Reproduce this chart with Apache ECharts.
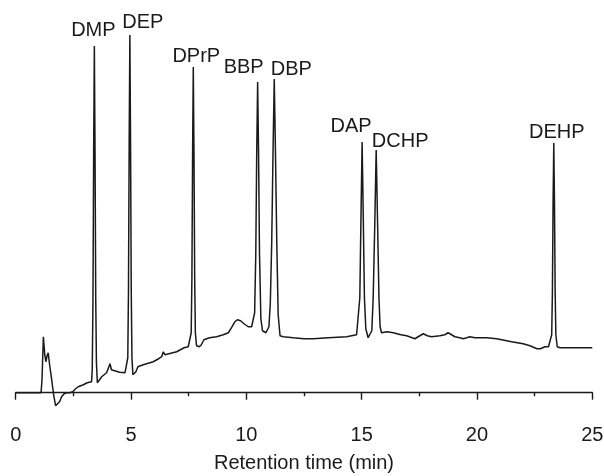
<!DOCTYPE html>
<html>
<head>
<meta charset="utf-8">
<title>Phthalate chromatogram</title>
<script src="https://cdn.jsdelivr.net/npm/echarts@6/dist/echarts.min.js"></script>
<style>
  html, body { margin: 0; padding: 0; background: #fff; }
  #chart { width: 604px; height: 476px; }
</style>
</head>
<body>
<div id="chart"></div>
<script>
// retention time (min) and detector response (arbitrary units, 0 = starting baseline)
const timeMin = [
  0.00, 1.10, 1.14, 1.20, 1.26, 1.31, 1.36, 1.41, 1.47, 1.56, 1.65, 1.73, 1.80, 1.90, 1.99, 2.10, 2.21, 2.35, 2.47, 2.60, 2.71, 2.93, 3.10, 3.29,
  3.32, 3.35, 3.38, 3.41, 3.44, 3.47, 3.50, 3.54, 3.58,
  3.73, 3.94, 4.02, 4.09, 4.15, 4.20, 4.50, 4.74, 4.80,
  4.86, 4.89, 4.92, 4.95, 4.98, 5.01, 5.04, 5.08,
  5.21, 5.30, 5.53, 5.96, 6.20, 6.33, 6.40, 6.47, 6.55, 6.98, 7.30, 7.48, 7.55,
  7.61, 7.64, 7.67, 7.70, 7.73, 7.76, 7.79, 7.84,
  7.96, 8.05, 8.16, 8.40, 8.71, 9.00, 9.22, 9.35, 9.50, 9.61, 9.75, 9.90, 10.08, 10.23, 10.30,
  10.36, 10.41, 10.45, 10.49, 10.53, 10.57, 10.63, 10.70, 10.78, 10.85, 10.92, 10.98,
  11.04, 11.10, 11.16, 11.21, 11.26, 11.32, 11.38, 11.46,
  11.60, 12.03, 12.50, 12.90, 13.55, 14.35, 14.78, 14.86,
  14.92, 14.97, 15.02, 15.07, 15.12, 15.18, 15.28, 15.36, 15.44,
  15.50, 15.57, 15.63, 15.69, 15.75, 15.80, 15.86,
  16.10, 16.37, 16.70, 16.95, 17.31, 17.45, 17.67, 17.85, 18.03, 18.39, 18.60, 18.75, 18.90, 19.04, 19.25, 19.40, 19.55, 19.69, 19.91,
  20.42, 20.85, 21.07, 21.50, 22.00, 22.30, 22.60, 22.75, 22.95, 23.10, 23.18,
  23.24, 23.27, 23.30, 23.33, 23.36, 23.39, 23.42, 23.48,
  23.60, 24.00, 24.50, 25.00
];
const signal = [
  0, 0, 13, 56, 38, 31, 37, 40, 28, 13, -3, -13, -15, -9, -4, -1, 0, 0, 1, 4, 6, 8, 10, 11,
  24, 92, 240, 347, 240, 95, 30, 10, 9,
  16, 20, 22, 29, 23, 21, 20.5, 20, 20,
  35, 102, 250, 358, 250, 102, 35, 18,
  21, 26, 28, 31, 34, 36, 41, 38, 38, 41, 45, 46, 47,
  60, 115, 238, 326, 238, 115, 60, 47,
  46, 48, 53, 55, 56, 58, 60, 65, 71, 73, 72, 69, 66, 66, 67,
  80, 140, 240, 311, 240, 140, 74, 62, 60, 60, 62, 66,
  90, 150, 245, 314, 245, 150, 78, 57,
  56, 55, 54, 54, 55, 56, 58, 60,
  95, 175, 251, 175, 95, 64, 55, 55, 62,
  95, 170, 243, 170, 95, 66, 60,
  61, 60, 58, 57, 54, 56, 59, 57, 56, 57, 58, 60, 58, 56, 55, 54, 55, 56, 55,
  55, 54, 53, 51, 49, 47, 44, 44, 46, 46, 48,
  58, 100, 190, 250, 190, 100, 58, 46,
  45, 45, 45, 45
];

// peak labels and the retention time / apex height they sit on
const peakNames = ['DMP', 'DEP', 'DPrP', 'BBP', 'DBP', 'DAP', 'DCHP', 'DEHP'];
const peakTimes = [3.41, 4.95, 7.70, 10.49, 11.21, 15.02, 15.63, 23.33];
const peakHeights = [347, 358, 326, 311, 314, 251, 243, 250];

const xTicks = [0, 5, 10, 15, 20, 25];

// label nudges (px) so the names sit like the original figure
const labelOffsets = [[-1, -5], [13, -2], [3, 0], [-14, -4], [17, 1], [-11, -5], [24, 2], [3, 0]];

const ink = '#1a1a1a';
const font = 'Liberation Sans, Arial, Helvetica, sans-serif';

const lineData = timeMin.map((t, i) => [t, signal[i]]);
const marks = peakNames.map((name, i) => ({
  name: name,
  coord: [peakTimes[i], peakHeights[i]],
  label: { offset: labelOffsets[i] }
}));

const chart = echarts.init(document.getElementById('chart'));
chart.setOption({
  animation: false,
  backgroundColor: '#fff',
  grid: { left: 15.7, right: 11.7, top: 0, bottom: 64.3, containLabel: false, outerBoundsMode: 'none' },
  xAxis: {
    type: 'value',
    min: xTicks[0],
    max: xTicks[xTicks.length - 1],
    interval: 5,
    name: 'Retention time (min)',
    nameLocation: 'middle',
    nameGap: 42,
    nameTextStyle: { color: ink, fontSize: 20, fontFamily: font },
    axisLine: { lineStyle: { color: ink, width: 1.4 } },
    axisTick: { length: 7, lineStyle: { color: ink, width: 1.4 } },
    minorTick: { show: true, splitNumber: 2, length: 3.5, lineStyle: { color: ink, width: 1.4 } },
    axisLabel: { color: ink, fontSize: 20, fontFamily: font, margin: 14, showMinLabel: true, showMaxLabel: true },
    splitLine: { show: false },
    minorSplitLine: { show: false }
  },
  yAxis: {
    type: 'value',
    min: -19,
    max: 393,
    show: false
  },
  series: [{
    type: 'line',
    data: lineData,
    showSymbol: false,
    symbol: 'none',
    smooth: false,
    lineStyle: { color: ink, width: 1.5 },
    markPoint: {
      symbol: 'circle',
      symbolSize: 0,
      label: {
        show: true,
        position: 'top',
        distance: 0,
        formatter: '{b}',
        color: ink,
        fontSize: 20,
        fontFamily: font
      },
      data: marks
    }
  }]
});
</script>
</body>
</html>
